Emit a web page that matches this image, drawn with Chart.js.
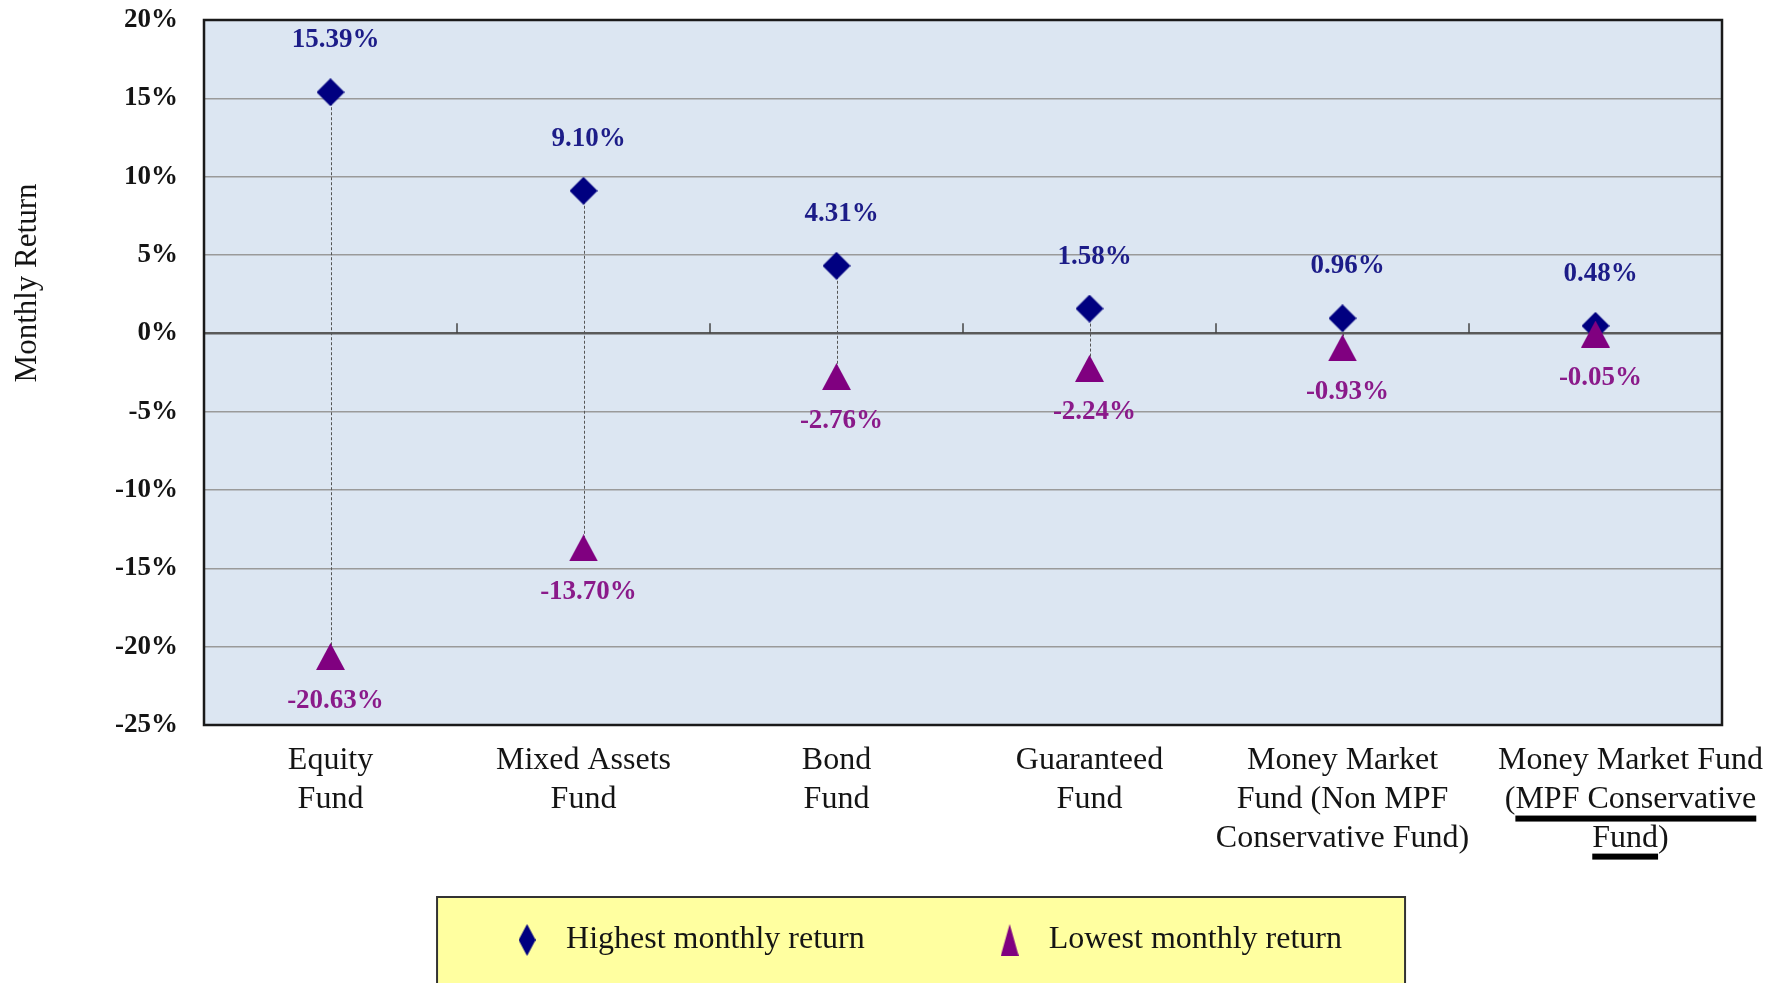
<!DOCTYPE html>
<html>
<head>
<meta charset="utf-8">
<title>Highest and lowest monthly return by fund type</title>
<script src="https://cdn.jsdelivr.net/npm/chart.js@4.4.1/dist/chart.umd.min.js"></script>
<style>
  html, body { margin: 0; padding: 0; background: #fff; }
  #wrap { width: 1774px; height: 983px; position: relative; }
</style>
</head>
<body>
<div id="wrap"><canvas id="returnChart"></canvas></div>
<script>
// chart data
const fundTypes = [
  ["Equity", "Fund"],
  ["Mixed Assets", "Fund"],
  ["Bond", "Fund"],
  ["Guaranteed", "Fund"],
  ["Money Market", "Fund (Non MPF", "Conservative Fund)"],
  ["Money Market Fund", "(MPF Conservative", "Fund)"]
];
const highestReturns = [15.39, 9.10, 4.31, 1.58, 0.96, 0.48];
const lowestReturns = [-20.63, -13.70, -2.76, -2.24, -0.93, -0.05];
const returnTicks = [-25, -20, -15, -10, -5, 0, 5, 10, 15, 20];
const seriesNames = ["Highest monthly return", "Lowest monthly return"];
const axisTitle = "Monthly Return";

const SERIF = '"Liberation Serif", "Times New Roman", serif';
const NAVY = "#000080";
const PURPLE = "#800080";

Chart.defaults.font.family = SERIF;

// small canvas markers, centred on the value like the original
function makeMarker(shape, color, w, h) {
  const c = document.createElement("canvas");
  c.width = w;
  c.height = h;
  const g = c.getContext("2d");
  g.fillStyle = color;
  g.beginPath();
  if (shape === "diamond") {
    g.moveTo(w / 2, 0);
    g.lineTo(w, h / 2);
    g.lineTo(w / 2, h);
    g.lineTo(0, h / 2);
  } else {
    g.moveTo(w / 2, 0);
    g.lineTo(w, h);
    g.lineTo(0, h);
  }
  g.closePath();
  g.fill();
  return c;
}

const plotMarks = [makeMarker("diamond", NAVY, 28, 28), makeMarker("triangle", PURPLE, 29, 27)];
const legendMarks = [makeMarker("diamond", NAVY, 17, 32), makeMarker("triangle", PURPLE, 18, 32)];
const legendPads = [" ".repeat(14), " ".repeat(10)];

// background, plot frame, legend box
const framePlugin = {
  id: "frame",
  afterUpdate(chart) {
    // the last category label sits a little to the right in the original
    const xs = chart.scales.x;
    if (!xs.getLabelItems) return;
    const items = xs.getLabelItems();
    const item = items && items[items.length - 1];
    if (item && !item._shifted) {
      item.options.translation[0] += 35;
      item._shifted = true;
    }
  },
  beforeDraw(chart) {
    const { ctx, chartArea: a, legend } = chart;
    ctx.save();
    ctx.fillStyle = "#dce6f2";
    ctx.fillRect(a.left, a.top, a.right - a.left, a.bottom - a.top);
    if (legend && legend.legendHitBoxes && legend.legendHitBoxes.length) {
      const left = legend.legendHitBoxes[0].left - 67;
      const top = legend.top - 17;
      ctx.fillStyle = "#ffffa0";
      ctx.strokeStyle = "#333";
      ctx.lineWidth = 2;
      ctx.fillRect(left, top, 968, 200);
      ctx.strokeRect(left, top, 968, 200);
    }
    ctx.restore();
  },
  beforeDatasetsDraw(chart) {
    const { ctx, chartArea: a, scales } = chart;
    const xs = scales.x;
    const ys = scales.y;
    ctx.save();
    // tick marks on the zero line between categories
    const y0 = ys.getPixelForValue(0);
    ctx.strokeStyle = "#444";
    ctx.lineWidth = 1.5;
    for (let i = 0; i < fundTypes.length - 1; i++) {
      const x = (xs.getPixelForValue(i) + xs.getPixelForValue(i + 1)) / 2;
      ctx.beginPath();
      ctx.moveTo(x, y0);
      ctx.lineTo(x, y0 - 10);
      ctx.stroke();
    }
    // dotted high-low connectors
    const hi = chart.getDatasetMeta(0).data;
    const lo = chart.getDatasetMeta(1).data;
    ctx.strokeStyle = "#555";
    ctx.lineWidth = 1;
    ctx.setLineDash([3, 2]);
    hi.forEach((p, i) => {
      if (!lo[i]) return;
      ctx.beginPath();
      ctx.moveTo(Math.round(p.x) + 0.5, p.y);
      ctx.lineTo(Math.round(p.x) + 0.5, lo[i].y);
      ctx.stroke();
    });
    ctx.setLineDash([]);
    // plot frame
    ctx.strokeStyle = "#1a1a1a";
    ctx.lineWidth = 2.5;
    ctx.strokeRect(a.left, a.top, a.right - a.left, a.bottom - a.top);
    ctx.restore();
  },
  afterDatasetsDraw(chart) {
    const { ctx } = chart;
    ctx.save();
    ctx.font = "bold 27px " + SERIF;
    ctx.textAlign = "center";
    ctx.textBaseline = "middle";
    const hi = chart.getDatasetMeta(0).data;
    const lo = chart.getDatasetMeta(1).data;
    ctx.fillStyle = "#1c1c88";
    hi.forEach((p, i) => ctx.fillText(highestReturns[i].toFixed(2) + "%", p.x + 5, p.y - 52));
    ctx.fillStyle = "#8a1a8a";
    lo.forEach((p, i) => ctx.fillText(lowestReturns[i].toFixed(2) + "%", p.x + 5, p.y + 44));
    ctx.restore();
  },
  afterDraw(chart) {
    const { ctx, chartArea: a } = chart;
    ctx.save();
    // y axis title
    ctx.translate(28, a.top + (a.bottom - a.top) * 0.373);
    ctx.rotate(-Math.PI / 2);
    ctx.font = "31px " + SERIF;
    ctx.fillStyle = "#141414";
    ctx.textAlign = "center";
    ctx.textBaseline = "middle";
    ctx.fillText(axisTitle, 0, 0);
    ctx.restore();

    // underline "MPF Conservative Fund" in the last category label
    const xs = chart.scales.x;
    if (!xs.getLabelItems) return;
    const items = xs.getLabelItems();
    const item = items && items[items.length - 1];
    if (!item || !Array.isArray(item.label)) return;
    const [tx, ty] = item.options.translation;
    const lh = item.font.lineHeight;
    ctx.save();
    ctx.font = item.font.string;
    ctx.fillStyle = "#000";
    const l2 = item.label[1];
    const w2 = ctx.measureText(l2).width;
    const pre = ctx.measureText("(").width;
    ctx.fillRect(tx - w2 / 2 + pre, ty + item.textOffset + lh + 16, w2 - pre, 6);
    const l3 = item.label[2];
    const w3 = ctx.measureText(l3).width;
    const core = ctx.measureText("Fund").width;
    ctx.fillRect(tx - w3 / 2, ty + item.textOffset + 2 * lh + 15, core, 6);
    ctx.restore();
  }
};

const ctx = document.getElementById("returnChart").getContext("2d");

new Chart(ctx, {
  type: "line",
  data: {
    labels: fundTypes,
    datasets: [
      {
        label: seriesNames[0],
        data: highestReturns,
        showLine: false,
        pointStyle: plotMarks[0],
        backgroundColor: NAVY,
        borderColor: NAVY,
        order: 1
      },
      {
        label: seriesNames[1],
        data: lowestReturns,
        showLine: false,
        pointStyle: plotMarks[1],
        backgroundColor: PURPLE,
        borderColor: PURPLE,
        order: 0
      }
    ]
  },
  options: {
    responsive: true,
    maintainAspectRatio: false,
    animation: false,
    events: [],
    layout: { padding: { top: 0, right: 52, bottom: 17, left: 0 } },
    plugins: {
      tooltip: { enabled: false },
      legend: {
        position: "bottom",
        fullSize: false,
        labels: {
          usePointStyle: true,
          pointStyleWidth: 46,
          padding: 10,
          color: "#141414",
          font: { size: 32, family: SERIF },
          sort: (a, b) => a.datasetIndex - b.datasetIndex,
          generateLabels(chart) {
            const items = Chart.defaults.plugins.legend.labels.generateLabels(chart);
            items.forEach((it) => {
              it.pointStyle = legendMarks[it.datasetIndex];
              it.text = it.text + legendPads[it.datasetIndex];
            });
            return items;
          }
        }
      }
    },
    scales: {
      x: {
        offset: true,
        grid: { display: false, drawTicks: false },
        border: { display: false },
        ticks: {
          color: "#141414",
          padding: 16,
          maxRotation: 0,
          autoSkip: false,
          font: { size: 32, family: SERIF, lineHeight: 1.22 }
        },
        afterFit(scale) { scale.height = 189; }
      },
      y: {
        min: returnTicks[0],
        max: returnTicks[returnTicks.length - 1],
        border: { display: false },
        grid: {
          drawTicks: false,
          color: (c) => (c.tick && c.tick.value === 0 ? "#5a5a5a" : "#9a9a9a"),
          lineWidth: (c) => (c.tick && c.tick.value === 0 ? 2.5 : 1.5)
        },
        ticks: {
          stepSize: 5,
          padding: 26,
          color: "#141414",
          font: { size: 27, weight: "bold", family: SERIF },
          callback: (v) => v + "%"
        },
        afterFit(scale) {
          scale.width = 204;
          scale.paddingTop = 20;
        }
      }
    }
  },
  plugins: [framePlugin]
});
</script>
</body>
</html>
